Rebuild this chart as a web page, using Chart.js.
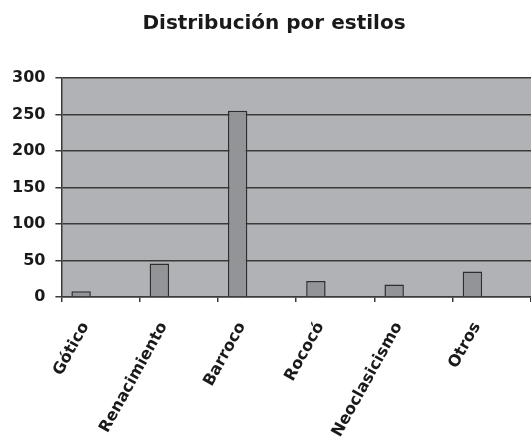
<!DOCTYPE html>
<html>
<head>
<meta charset="utf-8">
<script src="https://cdn.jsdelivr.net/npm/chart.js@4"></script>
<style>
  html, body { margin: 0; padding: 0; background: #fff; }
  #wrap { width: 531px; height: 443px; }
</style>
</head>
<body>
<div id="wrap"><canvas id="grafico"></canvas></div>
<script>
// datos del grafico
const estilos = ['Gótico', 'Renacimiento', 'Barroco', 'Rococó', 'Neoclasicismo', 'Otros']
const obras = [8, 46, 255, 22, 17, 35]
// series vacias: en el original cada barra ocupa el primer hueco de tres
const serieVacia1 = []
const serieVacia2 = []
const ticksY = [0, 50, 100, 150, 200, 250, 300]

const colorLinea = '#3a3a3a'

// fondo gris del area de trazado
const fondoPlot = {
  id: 'fondoPlot',
  afterLayout(chart) {
    // el titulo del original va algo desplazado a la derecha
    if (chart.titleBlock) chart.titleBlock.left = 17
  },
  beforeDraw(chart) {
    const { ctx, chartArea } = chart
    ctx.save()
    ctx.fillStyle = '#b1b2b6'
    ctx.fillRect(chartArea.left, chartArea.top, chartArea.right - chartArea.left, chartArea.bottom - chartArea.top)
    ctx.restore()
  }
}

new Chart(document.getElementById('grafico'), {
  type: 'bar',
  data: {
    labels: estilos,
    datasets: [{
      label: 'Obras',
      data: obras,
      backgroundColor: '#939497',
      borderColor: '#2e2e2e',
      borderWidth: 1.5
    }, {
      label: '',
      data: serieVacia1
    }, {
      label: '',
      data: serieVacia2
    }]
  },
  options: {
    responsive: true,
    maintainAspectRatio: false,
    animation: false,
    categoryPercentage: 0.745,
    barPercentage: 1,
    layout: { padding: { left: 2, right: 0, top: 12, bottom: 0 } },
    plugins: {
      legend: { display: false },
      tooltip: { enabled: false },
      title: {
        display: true,
        text: 'Distribución por estilos',
        color: '#1a1a1a',
        font: { family: 'DejaVu Sans', size: 20, weight: 'bold' },
        padding: { top: 0, bottom: 42 }
      }
    },
    scales: {
      x: {
        afterFit(scale) {
          // las etiquetas giradas no deben empujar el area de trazado
          scale.paddingLeft = 0
          scale.paddingRight = 0
          scale.height = 146
        },
        grid: {
          offset: true,
          drawOnChartArea: false,
          drawTicks: true,
          tickLength: 5,
          color: colorLinea,
          lineWidth: 1.5
        },
        border: { color: colorLinea, width: 1.5 },
        ticks: {
          color: '#1a1a1a',
          font: { family: 'DejaVu Sans', size: 16, weight: 'bold' },
          minRotation: 61,
          maxRotation: 61,
          labelOffset: -15,
          padding: 17,
          autoSkip: false
        }
      },
      y: {
        min: 0,
        max: 300,
        afterBuildTicks(axis) {
          axis.ticks = ticksY.map(v => ({ value: v }))
        },
        grid: {
          color: colorLinea,
          lineWidth: 1.5,
          tickLength: 6
        },
        border: { color: colorLinea, width: 1.5 },
        ticks: {
          color: '#1a1a1a',
          font: { family: 'DejaVu Sans', size: 16, weight: 'bold' },
          padding: 10
        }
      }
    }
  },
  plugins: [fondoPlot]
})
</script>
</body>
</html>
